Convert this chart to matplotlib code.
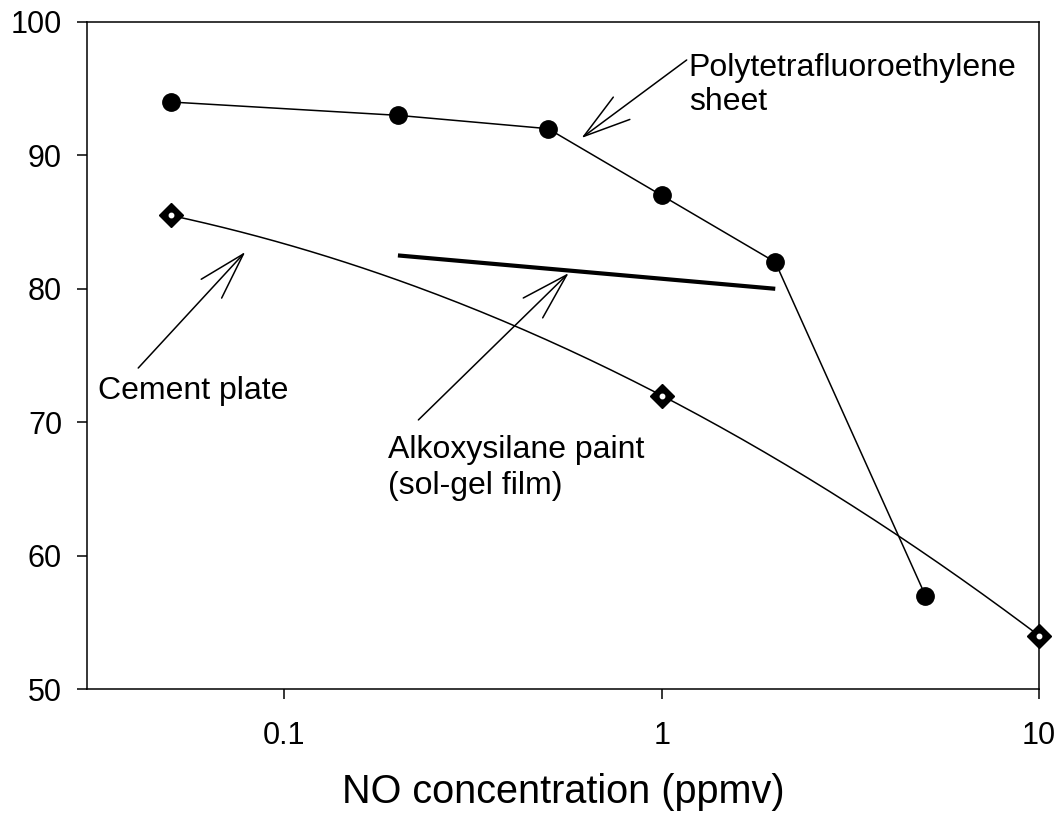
import numpy as np
import matplotlib.pyplot as plt

plt.rcParams['font.family'] = ['Liberation Sans', 'DejaVu Sans']

# Polytetrafluoroethylene sheet
ptfe_x = [0.05, 0.2, 0.5, 1, 2, 5]
ptfe_y = [94, 93, 92, 87, 82, 57]

# Cement plate
cement_x = [0.05, 1, 10]
cement_y = [85.5, 72, 54]

# Alkoxysilane paint (sol-gel film)
alkoxy_x = [0.2, 2]
alkoxy_y = [82.5, 80]

x_ticks = [0.1, 1, 10]
x_tick_labels = ['0.1', '1', '10']
y_ticks = [50, 60, 70, 80, 90, 100]

fig = plt.figure(figsize=(10.6, 8.13), dpi=100)
ax = fig.add_axes([0.0821, 0.1525, 0.8981, 0.8205])
ax.set_xscale('log')

# PTFE: straight segments with filled circles
ax.plot(ptfe_x, ptfe_y, color='black', lw=1.1, marker='o', ms=12.5, zorder=3)

# cement: smooth curve through the points (quadratic in log x)
coef = np.polyfit(np.log10(cement_x), cement_y, 2)
u = np.linspace(np.log10(cement_x[0]), np.log10(cement_x[-1]), 200)
ax.plot(10 ** u, np.polyval(coef, u), color='black', lw=1.1, zorder=2)
ax.plot(cement_x, cement_y, ls='none', marker='D', ms=12, color='black',
        zorder=4, clip_on=False)
ax.plot(cement_x, cement_y, ls='none', marker='o', ms=3.2, color='white',
        zorder=5, clip_on=False)

# alkoxysilane: thick line
ax.plot(alkoxy_x, alkoxy_y, color='black', lw=3, solid_capstyle='butt', zorder=2)

arrow = dict(arrowstyle='->,head_length=1.7,head_width=0.5', color='black',
             lw=1.1, mutation_scale=20, shrinkA=0, shrinkB=0)
ax.annotate('', xy=(0.613, 91.3), xytext=(1.165, 97.15), arrowprops=arrow)
ax.annotate('', xy=(0.0788, 82.76), xytext=(0.041, 74.06), arrowprops=arrow)
ax.annotate('', xy=(0.567, 81.18), xytext=(0.2266, 70.17), arrowprops=arrow)

ax.text(1.18, 97.7, 'Polytetrafluoroethylene\nsheet', fontsize=23,
        ha='left', va='top', linespacing=1.2)
ax.text(0.0321, 73.45, 'Cement plate', fontsize=23, ha='left', va='top')
ax.text(0.1887, 69.05, 'Alkoxysilane paint\n(sol-gel film)', fontsize=23,
        ha='left', va='top', linespacing=1.25)

ax.set_xlim(0.03, 10)
ax.set_ylim(50, 100)
ax.set_xticks(x_ticks)
ax.set_xticklabels(x_tick_labels)
ax.minorticks_off()
ax.set_yticks(y_ticks)
ax.tick_params(axis='both', direction='out', length=7, width=1.1, labelsize=22)
ax.tick_params(axis='x', pad=16)
ax.tick_params(axis='y', pad=11)
for s in ax.spines.values():
    s.set_linewidth(1.1)

ax.set_xlabel('NO concentration (ppmv)', fontsize=28.5, labelpad=16)

fig.savefig('out.png', dpi=100)
